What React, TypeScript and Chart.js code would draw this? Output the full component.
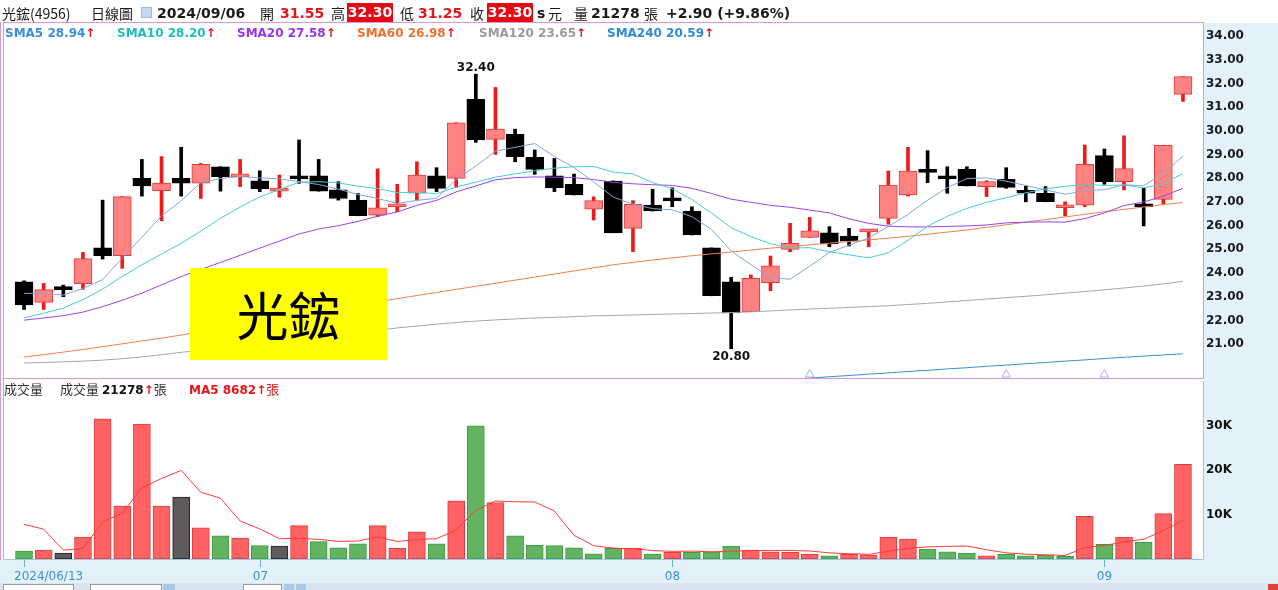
import React, { useEffect, useRef } from "react";
import { Chart, registerables } from "chart.js";

Chart.register(...registerables);

// ---------------- data ----------------
const TICK_INDEX = [0, 12, 33, 55];
const TICK_LABELS = ["2024/06/13", "07", "08", "09"];

const OPEN = [23.63, 22.76, 23.32, 23.55, 25.07, 24.73, 28.0, 27.48, 28.0, 27.8,
  28.49, 28.06, 27.9, 27.46, 28.0, 28.11, 27.51, 27.08, 26.45, 26.8,
  27.37, 28.11, 28.0, 31.34, 29.65, 29.86, 28.89, 28.11, 27.75, 26.7,
  27.89, 25.89, 26.87, 27.07, 26.62, 25.06, 23.63, 22.37, 23.59, 25.0,
  25.51, 25.7, 25.56, 25.74, 26.31, 27.3, 28.27, 28.0, 28.38, 27.65,
  27.96, 27.39, 27.37, 26.76, 26.87, 28.96, 27.86, 26.9, 27.11, 31.55];
const HIGH = [23.67, 23.56, 23.49, 24.87, 27.08, 27.23, 28.8, 28.92, 29.31, 28.63,
  28.49, 28.8, 28.32, 28.14, 29.62, 28.8, 27.86, 27.36, 28.4, 27.75,
  28.7, 28.45, 30.35, 32.4, 31.84, 30.08, 29.2, 28.84, 28.18, 27.22,
  27.89, 27.06, 27.54, 27.6, 26.8, 25.06, 23.82, 23.92, 24.72, 26.1,
  26.35, 25.96, 25.89, 25.78, 28.31, 29.31, 29.17, 28.49, 28.49, 27.9,
  28.45, 27.68, 27.65, 27.01, 29.41, 29.24, 29.8, 27.58, 29.4, 32.3];
const LOW = [22.46, 22.46, 23.0, 23.31, 24.59, 24.2, 27.25, 26.21, 27.25, 27.15,
  27.46, 27.65, 27.44, 27.2, 27.79, 27.46, 27.08, 26.42, 26.38, 26.59,
  27.08, 27.44, 27.62, 29.52, 29.01, 28.7, 28.17, 27.44, 27.3, 26.24,
  25.7, 24.9, 26.62, 26.8, 25.61, 23.04, 20.8, 22.37, 23.25, 24.9,
  25.51, 25.11, 25.14, 25.11, 26.06, 27.25, 27.82, 27.37, 27.68, 27.23,
  27.58, 27.01, 27.01, 26.41, 26.8, 27.75, 27.51, 25.99, 26.92, 31.25];
const CLOSE = [22.65, 23.3, 23.3, 24.61, 24.73, 27.23, 27.68, 27.8, 27.8, 28.59,
  28.07, 28.13, 27.55, 27.55, 27.98, 27.46, 27.15, 26.42, 26.76, 26.9,
  28.14, 27.58, 30.35, 29.62, 30.08, 28.92, 28.38, 27.6, 27.3, 27.06,
  25.7, 26.9, 26.62, 27.05, 25.61, 23.04, 22.32, 23.78, 24.3, 25.25,
  25.78, 25.23, 25.35, 25.78, 27.72, 28.31, 28.25, 27.98, 27.68, 27.86,
  27.62, 27.37, 27.01, 26.78, 28.59, 27.86, 28.41, 26.8, 29.4, 32.3];

const VOLUME = [1800, 2000, 1350, 4900, 31500, 11900, 30300, 11900, 13900, 7000,
  5200, 4700, 3000, 2900, 7500, 3900, 2500, 3400, 7500, 2400,
  6100, 3400, 13100, 29900, 12700, 5200, 3100, 3000, 2500, 1150,
  2400, 2400, 1100, 1500, 1500, 1600, 2900, 2000, 1600, 1500,
  1050, 700, 1050, 900, 4900, 4500, 2250, 1600, 1350, 700,
  1050, 700, 900, 600, 9600, 3300, 4900, 3750, 10200, 21278];
const VOLUME_MA5 = [7800, 6700, 2000, 2400, 8310, 10330, 15990, 18100, 19900, 15000,
  13660, 8540, 6760, 4560, 4660, 4400, 3960, 4040, 4960, 3940,
  4380, 4560, 6500, 10980, 13040, 12860, 12800, 10780, 5300, 2990,
  2430, 2290, 1910, 1710, 1780, 1620, 1720, 1900, 1920, 1920,
  1810, 1370, 1180, 1040, 1720, 2410, 2720, 2830, 2920, 2080,
  1390, 1080, 940, 790, 2570, 3020, 3860, 4430, 6350, 8682];

const SMA5 = [23.14, 23.14, 23.07, 23.35, 23.72, 24.63, 25.51, 26.41, 27.05, 27.82,
  27.99, 28.08, 28.02, 27.98, 27.86, 27.74, 27.54, 27.32, 27.15, 26.94,
  27.07, 27.16, 27.95, 28.52, 29.15, 29.31, 29.47, 28.92, 28.46, 27.85,
  27.21, 26.91, 26.72, 26.67, 26.38, 25.84, 24.93, 24.36, 23.81, 23.74,
  24.29, 24.87, 25.18, 25.48, 25.97, 26.48, 27.08, 27.61, 27.99, 28.02,
  27.88, 27.7, 27.51, 27.33, 27.47, 27.52, 27.73, 27.69, 28.21, 28.94];
const SMA10 = [22.11, 22.3, 22.52, 22.88, 23.32, 23.85, 24.35, 24.8, 25.25, 25.77,
  26.31, 26.79, 27.22, 27.52, 27.84, 27.86, 27.81, 27.67, 27.57, 27.4,
  27.41, 27.35, 27.63, 27.84, 28.05, 28.19, 28.32, 28.43, 28.49, 28.5,
  28.26, 28.19, 27.82, 27.56, 27.11, 26.53, 25.92, 25.54, 25.24, 25.06,
  25.07, 24.9, 24.77, 24.64, 24.86, 25.38, 25.98, 26.4, 26.73, 26.99,
  27.18, 27.39, 27.56, 27.66, 27.75, 27.7, 27.72, 27.6, 27.77, 28.2];
const SMA20 = [22.01, 22.1, 22.2, 22.35, 22.58, 22.85, 23.15, 23.5, 23.85, 24.15,
  24.45, 24.75, 25.05, 25.35, 25.65, 25.86, 26.0, 26.18, 26.4, 26.58,
  26.86, 27.07, 27.43, 27.68, 27.94, 28.03, 28.06, 28.05, 28.03, 27.95,
  27.83, 27.77, 27.73, 27.7, 27.58, 27.36, 27.12, 26.99, 26.86, 26.78,
  26.66, 26.54, 26.29, 26.1, 25.98, 25.95, 25.95, 25.97, 25.99, 26.03,
  26.12, 26.15, 26.16, 26.15, 26.3, 26.54, 26.85, 27.0, 27.25, 27.58];
const SMA60 = [20.45, 20.55, 20.66, 20.77, 20.89, 21.01, 21.13, 21.25, 21.38, 21.52,
  21.66, 21.8, 21.94, 22.08, 22.22, 22.36, 22.5, 22.64, 22.78, 22.92,
  23.05, 23.18, 23.31, 23.44, 23.57, 23.7, 23.83, 23.96, 24.09, 24.22,
  24.35, 24.45, 24.55, 24.64, 24.73, 24.81, 24.89, 24.97, 25.05, 25.12,
  25.19, 25.26, 25.33, 25.4, 25.47, 25.55, 25.64, 25.73, 25.82, 25.93,
  26.04, 26.15, 26.26, 26.37, 26.48, 26.59, 26.69, 26.79, 26.89, 26.98];
const SMA120 = [20.2, 20.22, 20.25, 20.28, 20.32, 20.38, 20.46, 20.55, 20.65, 20.74,
  20.83, 20.92, 21.01, 21.1, 21.19, 21.28, 21.38, 21.48, 21.58, 21.68,
  21.76, 21.84, 21.91, 21.97, 22.02, 22.06, 22.1, 22.13, 22.16, 22.19,
  22.21, 22.23, 22.25, 22.27, 22.29, 22.31, 22.33, 22.36, 22.4, 22.44,
  22.48, 22.51, 22.55, 22.58, 22.62, 22.67, 22.72, 22.78, 22.84, 22.9,
  22.96, 23.02, 23.08, 23.15, 23.22, 23.29, 23.37, 23.45, 23.54, 23.65];
const SMA240 = [17.36, 17.42, 17.47, 17.53, 17.58, 17.64, 17.69, 17.75, 17.8, 17.86,
  17.91, 17.97, 18.02, 18.08, 18.13, 18.19, 18.24, 18.3, 18.35, 18.41,
  18.46, 18.52, 18.57, 18.63, 18.68, 18.74, 18.79, 18.85, 18.9, 18.96,
  19.01, 19.07, 19.12, 19.18, 19.23, 19.29, 19.34, 19.4, 19.45, 19.51,
  19.56, 19.62, 19.67, 19.73, 19.78, 19.84, 19.89, 19.95, 20.0, 20.06,
  20.11, 20.17, 20.22, 20.28, 20.33, 20.39, 20.44, 20.49, 20.54, 20.59];

const PRICE_TICKS = [21, 22, 23, 24, 25, 26, 27, 28, 29, 30, 31, 32, 33, 34];
const VOLUME_TICKS = [10000, 20000, 30000];
const EVENT_MARKERS = [40, 50, 55];
const EVENT_LEVEL = 19.71;

// ---------------- layout / style constants ----------------
const PRICE_MIN = 19.566;
const PRICE_MAX = 34.563;
const VOLUME_MAX = 40000;
const X_MIN = -1.02;
const X_MAX = 60.02;
const AXIS_W = 75;
const AXIS_BG = "#e3f1fb";
const PINK = "#dc96dc";
const BLUE_EDGE = "#9cc6e8";
const FONT = '"DejaVu Sans", Verdana, sans-serif';
const CJK = '"Noto Sans CJK TC", "Noto Sans CJK SC", sans-serif';
const RED = "#e3161b";

const SMA_LINES = [
  { name: "SMA5", values: SMA5, line: "#7ea8da", text: "#3b8ede", left: 5 },
  { name: "SMA10", values: SMA10, line: "#45cfcf", text: "#1fbdbd", left: 117 },
  { name: "SMA20", values: SMA20, line: "#9a42f0", text: "#9a33f0", left: 237 },
  { name: "SMA60", values: SMA60, line: "#f0804e", text: "#f27030", left: 357 },
  { name: "SMA120", values: SMA120, line: "#a8a8a8", text: "#9a9a9a", left: 479 },
  { name: "SMA240", values: SMA240, line: "#3a8fd6", text: "#2f8ad6", left: 607 },
];

const last = (a: number[]) => a[a.length - 1];

const priceFrame = {
  id: "priceFrame",
  afterDraw(chart: any) {
    const { ctx, chartArea: a } = chart;
    ctx.save();
    ctx.strokeStyle = PINK;
    ctx.lineWidth = 1;
    ctx.strokeRect(a.left - 0.5, a.top - 0.5, a.right - a.left + 1, a.bottom - a.top + 1);
    const xs = chart.scales.x;
    const ys = chart.scales.y;
    let hi = 0;
    let lo = 0;
    HIGH.forEach((v, i) => { if (v > HIGH[hi]) hi = i; });
    LOW.forEach((v, i) => { if (v < LOW[lo]) lo = i; });
    ctx.font = `bold 12px ${FONT}`;
    ctx.fillStyle = "#111";
    ctx.textAlign = "center";
    ctx.textBaseline = "bottom";
    ctx.fillText(HIGH[hi].toFixed(2), xs.getPixelForValue(hi), ys.getPixelForValue(HIGH[hi]));
    ctx.textBaseline = "top";
    ctx.fillText(LOW[lo].toFixed(2), xs.getPixelForValue(lo), ys.getPixelForValue(LOW[lo]) + 2);
    ctx.restore();
  },
};

const volumeFrame = {
  id: "volumeFrame",
  afterDraw(chart: any) {
    const { ctx, chartArea: a } = chart;
    ctx.save();
    ctx.lineWidth = 1;
    ctx.strokeStyle = BLUE_EDGE;
    ctx.beginPath();
    ctx.moveTo(a.right + 0.5, a.top);
    ctx.lineTo(a.right + 0.5, a.bottom + 0.5);
    ctx.lineTo(a.left - 0.5, a.bottom + 0.5);
    ctx.stroke();
    ctx.strokeStyle = PINK;
    ctx.beginPath();
    ctx.moveTo(a.left - 0.5, a.top - 2);
    ctx.lineTo(a.left - 0.5, a.bottom);
    ctx.stroke();
    const xs = chart.scales.x;
    ctx.font = `12px ${FONT}`;
    ctx.fillStyle = "#3b8fd4";
    ctx.textAlign = "left";
    ctx.textBaseline = "middle";
    TICK_INDEX.forEach((t, k) => {
      const x = Math.round(xs.getPixelForValue(t)) + 0.5;
      ctx.strokeStyle = "#6aaee0";
      ctx.beginPath();
      ctx.moveTo(x, a.bottom + 1);
      ctx.lineTo(x, a.bottom + 8);
      ctx.stroke();
      const w = ctx.measureText(TICK_LABELS[k]).width;
      const left = Math.max(x - w / 2, a.left + 10);
      ctx.fillText(TICK_LABELS[k], left, a.bottom + 18);
    });
    ctx.restore();
  },
};

function noPad(s: any) {
  s.width = AXIS_W;
  s.paddingTop = 0;
  s.paddingBottom = 0;
}

function priceConfig(): any {
  const idx = CLOSE.map((_, i) => i);
  const up = idx.map((i) => CLOSE[i] > OPEN[i]);
  return {
    type: "bar",
    data: {
      datasets: [
        ...SMA_LINES.map((s) => ({
          type: "line",
          data: s.values.map((y, x) => ({ x, y })),
          borderColor: s.line,
          borderWidth: 1,
          pointRadius: 0,
          pointHoverRadius: 0,
          tension: 0,
          fill: false,
          order: 0,
        })),
        {
          type: "line",
          data: EVENT_MARKERS.map((x) => ({ x, y: EVENT_LEVEL })),
          showLine: false,
          pointStyle: "triangle",
          pointRadius: 5,
          pointHoverRadius: 5,
          pointBorderColor: "#a3b8e6",
          pointBackgroundColor: "rgba(255,255,255,0)",
          pointBorderWidth: 1,
          order: 0,
        },
        {
          type: "bar",
          data: idx.map((i) => ({ x: i, y: [OPEN[i], CLOSE[i]] })),
          backgroundColor: up.map((u) => (u ? "#ff8282" : "#000000")),
          borderColor: up.map((u) => (u ? "#e53b3b" : "#000000")),
          borderWidth: 1,
          borderSkipped: false,
          grouped: false,
          barThickness: 18,
          minBarLength: 3,
          order: 1,
        },
        {
          type: "bar",
          data: idx.map((i) => ({ x: i, y: [LOW[i], HIGH[i]] })),
          backgroundColor: up.map((u) => (u ? "#ee1a1a" : "#000000")),
          borderWidth: 0,
          grouped: false,
          barThickness: 3,
          order: 2,
        },
      ],
    },
    options: {
      responsive: false,
      animation: false,
      devicePixelRatio: 1,
      layout: { autoPadding: false, padding: { left: 4, top: 1, bottom: 1, right: 0 } },
      plugins: { legend: { display: false }, tooltip: { enabled: false } },
      scales: {
        x: { type: "linear", min: X_MIN, max: X_MAX, display: false, offset: false },
        y: {
          type: "linear",
          position: "right",
          min: PRICE_MIN,
          max: PRICE_MAX,
          grid: { display: false, drawTicks: false },
          border: { display: false },
          afterFit: noPad,
          afterBuildTicks: (s: any) => { s.ticks = PRICE_TICKS.map((value) => ({ value })); },
          ticks: {
            padding: 3,
            autoSkip: false,
            color: "#1a1a1a",
            font: { family: FONT, size: 12, weight: "bold" },
            callback: (v: any) => Number(v).toFixed(2),
          },
        },
      },
    },
    plugins: [priceFrame],
  };
}

function volumeConfig(): any {
  const dir = VOLUME.map((_, i) => (i === 0 ? CLOSE[0] - OPEN[0] : CLOSE[i] - CLOSE[i - 1]));
  const fill = dir.map((d) => (d > 0 ? "#ff6262" : d < 0 ? "#62b462" : "#5e5a5e"));
  const edge = dir.map((d) => (d > 0 ? "#e23c3c" : d < 0 ? "#3f9a3f" : "#222222"));
  return {
    type: "bar",
    data: {
      datasets: [
        {
          type: "line",
          data: VOLUME_MA5.map((y, x) => ({ x, y })),
          borderColor: "#ff3a3a",
          borderWidth: 1,
          pointRadius: 0,
          pointHoverRadius: 0,
          tension: 0,
          order: 0,
        },
        {
          type: "bar",
          data: VOLUME.map((y, x) => ({ x, y })),
          backgroundColor: fill,
          borderColor: edge,
          borderWidth: 1,
          borderSkipped: false,
          grouped: false,
          barThickness: 17,
          order: 1,
        },
      ],
    },
    options: {
      responsive: false,
      animation: false,
      devicePixelRatio: 1,
      layout: { autoPadding: false, padding: { left: 4, top: 2, bottom: 31, right: 0 } },
      plugins: { legend: { display: false }, tooltip: { enabled: false } },
      scales: {
        x: { type: "linear", min: X_MIN, max: X_MAX, display: false, offset: false },
        y: {
          type: "linear",
          position: "right",
          min: 0,
          max: VOLUME_MAX,
          grid: { display: false, drawTicks: false },
          border: { display: false },
          afterFit: noPad,
          afterBuildTicks: (s: any) => { s.ticks = VOLUME_TICKS.map((value) => ({ value })); },
          ticks: {
            padding: 3,
            autoSkip: false,
            color: "#111",
            font: { family: FONT, size: 12, weight: "bold" },
            callback: (v: any) => `${Number(v) / 1000}K`,
          },
        },
      },
    },
    plugins: [volumeFrame],
  };
}

const abs = (left: number, top: number, extra: any = {}): any => ({
  position: "absolute",
  left,
  top,
  whiteSpace: "nowrap",
  ...extra,
});

export default function App() {
  const priceRef = useRef<HTMLCanvasElement>(null);
  const volRef = useRef<HTMLCanvasElement>(null);

  useEffect(() => {
    const pc = new Chart(priceRef.current as HTMLCanvasElement, priceConfig());
    const vc = new Chart(volRef.current as HTMLCanvasElement, volumeConfig());
    return () => {
      pc.destroy();
      vc.destroy();
    };
  }, []);

  const n = CLOSE.length - 1;
  const change = CLOSE[n] - CLOSE[n - 1];
  const pct = (change / CLOSE[n - 1]) * 100;

  const hdr = { fontSize: 14, lineHeight: "20px", color: "#1a1a1a" };
  const cjk = { ...hdr, fontFamily: CJK };
  const num = { ...hdr, fontFamily: FONT, fontWeight: "bold" };
  const redBox = {
    ...num,
    color: "#fff",
    background: "#e50914",
    width: 46,
    textAlign: "center",
    height: 19,
    lineHeight: "19px",
  };

  return (
    <div
      style={{
        position: "absolute",
        left: 0,
        top: 0,
        width: 1278,
        height: 590,
        background: "#ffffff",
        overflow: "hidden",
        fontFamily: FONT,
      }}
    >
      <div style={abs(1204, 23, { width: 74, height: 560, background: AXIS_BG })} />
      <div style={abs(0, 560, { width: 1278, height: 23, background: AXIS_BG })} />
      <div style={abs(0, 583, { width: 1278, height: 7, background: "#d8e5f0" })} />
      <div style={abs(3, 584, { width: 69, height: 8, background: "#fff", border: "1px solid #9a9a9a" })} />
      <div style={abs(90, 584, { width: 70, height: 8, background: "#fff", border: "1px solid #9a9a9a" })} />
      <div style={abs(163, 584, { width: 12, height: 8, background: "#a9c7e6" })} />
      <div style={abs(243, 584, { width: 37, height: 8, background: "#fff", border: "1px solid #9a9a9a" })} />
      <div style={abs(284, 584, { width: 10, height: 8, background: "#a9c7e6" })} />
      <div style={abs(296, 584, { width: 10, height: 8, background: "#a9c7e6" })} />
      <div style={abs(1268, 584, { width: 10, height: 8, background: "#e04040" })} />

      <canvas
        ref={priceRef}
        width={1278}
        height={357}
        style={{ position: "absolute", left: 0, top: 22, width: 1278, height: 357 }}
      />
      <canvas
        ref={volRef}
        width={1278}
        height={211}
        style={{ position: "absolute", left: 0, top: 379, width: 1278, height: 211 }}
      />

      <div style={abs(0, 22, { width: 1, height: 538, background: PINK })} />

      {/* name tag */}
      <div
        style={abs(190, 268, {
          width: 197,
          height: 92,
          background: "#ffff00",
          display: "flex",
          alignItems: "center",
          justifyContent: "center",
          fontFamily: CJK,
          fontSize: 52,
          color: "#000",
          lineHeight: "92px",
        })}
      >
        光鋐
      </div>

      {/* header */}
      <span style={abs(2, 3, cjk)}>光鋐(4956)</span>
      <span style={abs(91, 3, cjk)}>日線圖</span>
      <span style={abs(141, 7, { width: 11, height: 11, background: "#c3daf0", border: "1px solid #98bde0", boxSizing: "border-box" })} />
      <span style={abs(157, 3, num)}>2024/09/06</span>
      <span style={abs(260, 3, cjk)}>開</span>
      <span style={abs(280, 3, { ...num, color: RED })}>{OPEN[n].toFixed(2)}</span>
      <span style={abs(331, 3, cjk)}>高</span>
      <span style={abs(347, 3, redBox)}>{HIGH[n].toFixed(2)}</span>
      <span style={abs(400, 3, cjk)}>低</span>
      <span style={abs(418, 3, { ...num, color: RED })}>{LOW[n].toFixed(2)}</span>
      <span style={abs(470, 3, cjk)}>收</span>
      <span style={abs(487, 3, redBox)}>{CLOSE[n].toFixed(2)}</span>
      <span style={abs(537, 3, num)}>s</span>
      <span style={abs(548, 3, cjk)}>元</span>
      <span style={abs(574, 3, cjk)}>量</span>
      <span style={abs(591, 3, num)}>{VOLUME[n]}</span>
      <span style={abs(644, 3, cjk)}>張</span>
      <span style={abs(666, 3, num)}>
        {`+${change.toFixed(2)} (+${pct.toFixed(2)}%)`}
      </span>

      {/* SMA legend */}
      {SMA_LINES.map((s) => (
        <span
          key={s.name}
          style={abs(s.left, 25, {
            fontFamily: FONT,
            fontWeight: "bold",
            fontSize: 12,
            lineHeight: "16px",
            color: s.text,
          })}
        >
          {`${s.name} ${last(s.values).toFixed(2)}`}
          <span style={{ color: RED }}>↑</span>
        </span>
      ))}

      {/* volume title */}
      <span style={abs(4, 381, { fontFamily: CJK, fontSize: 13, lineHeight: "16px", color: "#333" })}>成交量</span>
      <span style={abs(60, 381, { fontFamily: CJK, fontSize: 13, lineHeight: "16px", color: "#333" })}>
        成交量{" "}
        <span style={{ fontFamily: FONT, fontWeight: "bold", fontSize: 12, color: "#111" }}>{VOLUME[n]}</span>
        <span style={{ fontFamily: FONT, fontWeight: "bold", fontSize: 12, color: RED }}>↑</span>
        張
      </span>
      <span style={abs(189, 381, { fontFamily: FONT, fontWeight: "bold", fontSize: 12, lineHeight: "16px", color: RED })}>
        {`MA5 ${last(VOLUME_MA5)}↑`}
        <span style={{ fontFamily: CJK, fontWeight: "normal", fontSize: 13 }}>張</span>
      </span>
    </div>
  );
}
